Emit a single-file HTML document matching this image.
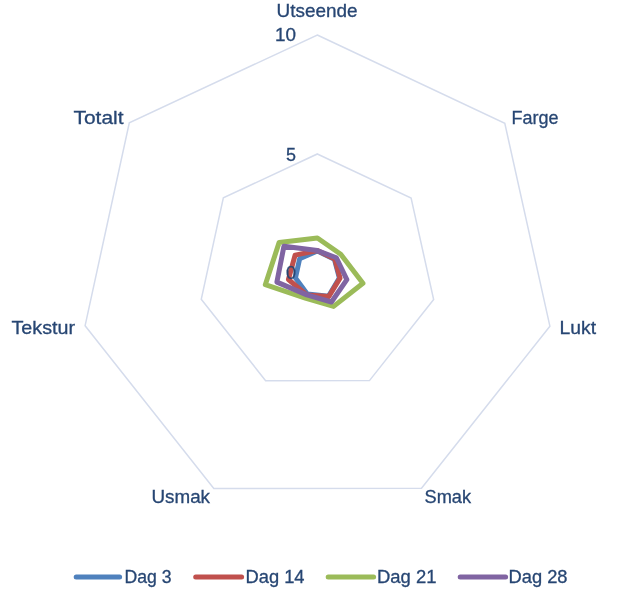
<!DOCTYPE html><html><head><meta charset="utf-8"><style>html,body{margin:0;padding:0;background:#fff;}svg{display:block;filter:blur(0.35px);}text{font-family:"Liberation Sans",sans-serif;fill:#274673;}</style></head><body>
<svg width="626" height="610" viewBox="0 0 626 610">
<rect width="626" height="610" fill="#fff"/>
<polygon points="317.30,35.00 504.80,123.30 549.90,326.20 421.50,488.30 213.80,488.40 85.10,325.70 129.30,122.80" fill="none" stroke="#D5DCEC" stroke-width="1.5" stroke-linejoin="miter"/>
<polygon points="317.35,153.95 411.10,198.10 433.65,299.55 369.45,380.60 265.60,380.65 201.25,299.30 223.35,197.85" fill="none" stroke="#D5DCEC" stroke-width="1.5"/>
<polygon points="317.39,250.90 334.41,259.32 339.34,277.93 328.63,296.13 307.26,294.00 295.45,277.89 299.65,258.73" fill="none" stroke="#4F81BD" stroke-width="5.0" stroke-linejoin="round"/>
<polygon points="317.39,250.60 334.80,259.01 340.03,278.09 328.80,296.49 306.82,294.90 288.43,279.49 295.09,255.10" fill="none" stroke="#C0504D" stroke-width="5.0" stroke-linejoin="round"/>
<polygon points="317.39,238.00 340.73,254.28 362.93,283.34 333.59,306.39 305.31,298.05 265.31,284.74 279.17,242.40" fill="none" stroke="#9BBB59" stroke-width="5.0" stroke-linejoin="round"/>
<polygon points="317.39,250.60 336.37,257.76 346.85,279.65 331.45,301.98 306.82,294.90 276.92,282.10 283.93,246.20" fill="none" stroke="#8064A2" stroke-width="5.0" stroke-linejoin="round"/>
<text x="276.5" y="16.5" font-size="18.5" textLength="81.0" lengthAdjust="spacingAndGlyphs" stroke="#274673" stroke-width="0.3">Utseende</text>
<text x="275" y="40.7" font-size="18.5" textLength="21" lengthAdjust="spacingAndGlyphs" stroke="#274673" stroke-width="0.3">10</text>
<text x="286" y="160.7" font-size="18.5" textLength="10" lengthAdjust="spacingAndGlyphs" stroke="#274673" stroke-width="0.3">5</text>
<text x="286" y="278.7" font-size="18.5" textLength="10" lengthAdjust="spacingAndGlyphs" stroke="#274673" stroke-width="0.3">0</text>
<text x="511.5" y="124" font-size="18.5" textLength="47" lengthAdjust="spacingAndGlyphs" stroke="#274673" stroke-width="0.3">Farge</text>
<text x="73.5" y="124" font-size="18.5" textLength="50" lengthAdjust="spacingAndGlyphs" stroke="#274673" stroke-width="0.3">Totalt</text>
<text x="11.5" y="334.3" font-size="18.5" textLength="63.5" lengthAdjust="spacingAndGlyphs" stroke="#274673" stroke-width="0.3">Tekstur</text>
<text x="559.5" y="334.4" font-size="18.5" textLength="36.5" lengthAdjust="spacingAndGlyphs" stroke="#274673" stroke-width="0.3">Lukt</text>
<text x="151.5" y="502.9" font-size="18.5" textLength="58.5" lengthAdjust="spacingAndGlyphs" stroke="#274673" stroke-width="0.3">Usmak</text>
<text x="424.5" y="502.9" font-size="18.5" textLength="46.5" lengthAdjust="spacingAndGlyphs" stroke="#274673" stroke-width="0.3">Smak</text>
<text x="124.5" y="582.6" font-size="18.5" textLength="47.0" lengthAdjust="spacingAndGlyphs" stroke="#274673" stroke-width="0.3">Dag 3</text>
<text x="245.5" y="582.6" font-size="18.5" textLength="59" lengthAdjust="spacingAndGlyphs" stroke="#274673" stroke-width="0.3">Dag 14</text>
<text x="377.0" y="582.6" font-size="18.5" textLength="59.5" lengthAdjust="spacingAndGlyphs" stroke="#274673" stroke-width="0.3">Dag 21</text>
<text x="508.5" y="582.6" font-size="18.5" textLength="59.0" lengthAdjust="spacingAndGlyphs" stroke="#274673" stroke-width="0.3">Dag 28</text>
<line x1="76.2" y1="577.1" x2="119.6" y2="577.1" stroke="#4F81BD" stroke-width="5" stroke-linecap="round"/>
<line x1="195.7" y1="577.1" x2="241.6" y2="577.1" stroke="#C0504D" stroke-width="5" stroke-linecap="round"/>
<line x1="328.2" y1="577.1" x2="373.6" y2="577.1" stroke="#9BBB59" stroke-width="5" stroke-linecap="round"/>
<line x1="460.2" y1="577.1" x2="505.6" y2="577.1" stroke="#8064A2" stroke-width="5" stroke-linecap="round"/>
</svg></body></html>
